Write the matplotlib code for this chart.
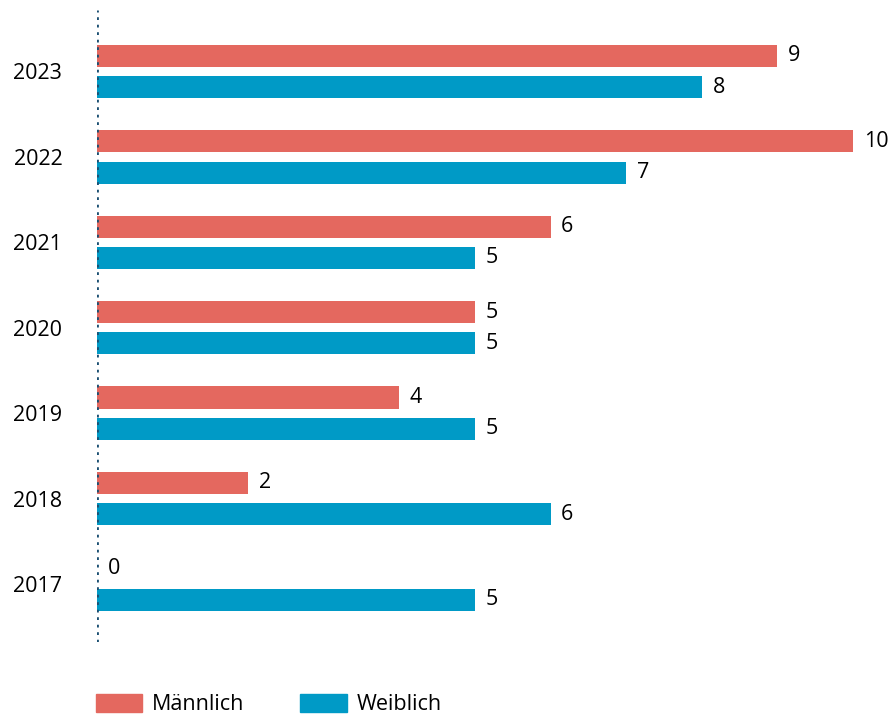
import numpy as np
import matplotlib.pyplot as plt
from matplotlib.patches import Patch

plt.rcParams['font.family'] = ['Open Sans', 'DejaVu Sans']

years = ["2023", "2022", "2021", "2020", "2019", "2018", "2017"]
maennlich = [9, 10, 6, 5, 4, 2, 0]
weiblich = [8, 7, 5, 5, 5, 6, 5]

ROT = "#E4685F"
BLAU = "#009AC6"
ACHSE = "#1B4F72"
FS = 15.5

fig = plt.figure(figsize=(8.89, 7.17), dpi=100)
ax = fig.add_axes([97 / 889, 75 / 717, 792 / 889, 632 / 717])

y = np.arange(len(years))
off, h = 0.183, 0.258
ax.barh(y - off, maennlich, height=h, color=ROT)
ax.barh(y + off, weiblich, height=h, color=BLAU)

for yi, m, w in zip(y, maennlich, weiblich):
    ax.text(m + 0.14, yi - off, str(m), va="center", ha="left", fontsize=FS)
    ax.text(w + 0.14, yi + off, str(w), va="center", ha="left", fontsize=FS)

ax.set_xlim(0, 792 / 75.6)
ax.set_ylim(len(years) - 1 + 0.68, -0.72)
ax.set_yticks(y)
ax.set_yticklabels(years, fontsize=FS)
ax.tick_params(axis="y", length=0, pad=25)
ax.set_xticks([])
for s in ax.spines.values():
    s.set_visible(False)
ax.axvline(0, color=ACHSE, lw=2, ls=(0, (1, 1.7)), zorder=5)

handles = [Patch(color=ROT, label="Männlich"), Patch(color=BLAU, label="Weiblich")]
fig.legend(handles=handles, loc="upper left", bbox_to_anchor=(96 / 889, 23 / 717),
           ncol=2, frameon=False, fontsize=FS, borderpad=0, borderaxespad=0,
           handlelength=2.15, handleheight=0.9, handletextpad=0.45, columnspacing=2.6)

fig.savefig("out.png", dpi=100)
